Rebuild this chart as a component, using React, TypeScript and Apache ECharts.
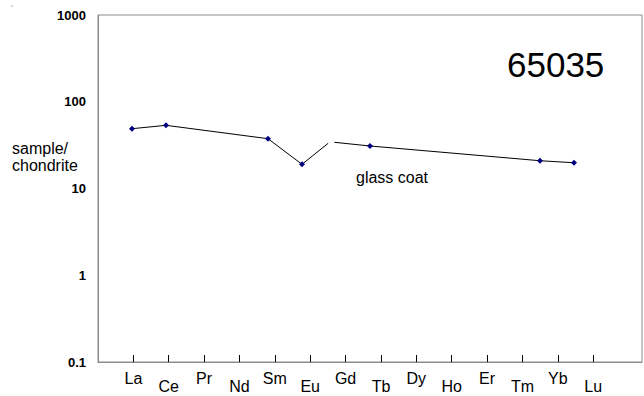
import React, { useEffect, useRef } from "react";
import * as echarts from "echarts";

const tickLabels = ["La", "Ce", "Pr", "Nd", "Sm", "Eu", "Gd", "Tb", "Dy", "Ho", "Er", "Tm", "Yb", "Lu"];
const tickPositions = [1, 2, 3, 4, 5, 6, 7, 8, 9, 10, 11, 12, 13, 14];

// first trace segment (La, Ce, Sm, Eu, then the line heading to Gd)
const segAX = [1, 2, 5, 6, 6.77];
const segAY = [48.9, 53.5, 37.5, 19.0, 33.2];
const segAMarker = [true, true, true, true, false];

// second trace segment (from Gd to Tb, Yb, Lu)
const segBX = [6.95, 8, 13, 14];
const segBY = [34.1, 30.9, 20.9, 19.8];
const segBMarker = [false, true, true, true];

const yTicks = [0.1, 1, 10, 100, 1000];

const FONT = "'Liberation Sans', Arial, sans-serif";

function build(xs: number[], ys: number[], marks: boolean[]) {
  return xs.map((x, i) => ({
    value: [x, ys[i]],
    symbol: marks[i] ? "diamond" : "none",
  }));
}

export default function App() {
  const ref = useRef<HTMLDivElement>(null);
  useEffect(() => {
    if (!ref.current) return;
    const chart = echarts.init(ref.current, null, { renderer: "svg" });
    chart.setOption({
      animation: false,
      backgroundColor: "#ffffff",
      grid: {
        left: 98,
        top: 15,
        right: 2,
        bottom: 34,
        show: true,
        borderColor: "#8c8c8c",
        borderWidth: 1,
        backgroundColor: "transparent",
      },
      xAxis: [
        {
          type: "value",
          min: 0,
          max: 16,
          show: false,
        },
        {
          type: "value",
          position: "bottom",
          min: 0,
          max: 15.38,
          interval: 1,
          axisLine: { show: true, lineStyle: { color: "#8c8c8c", width: 1 } },
          axisTick: {
            show: true,
            inside: true,
            length: 7,
            customValues: tickPositions,
            lineStyle: { color: "#000", width: 1 },
          },
          splitLine: { show: false },
          axisLabel: {
            customValues: tickPositions,
            margin: 8,
            fontFamily: FONT,
            fontSize: 16,
            color: "#000",
            formatter: (v: number) => {
              const i = Math.round(v) - 1;
              if (i < 0 || i >= tickLabels.length) return "";
              return i % 2 === 0 ? `{hi|${tickLabels[i]}}` : `{lo|${tickLabels[i]}}`;
            },
            rich: {
              hi: { fontFamily: FONT, fontSize: 16, color: "#000", padding: [0, 0, 0, 0] },
              lo: { fontFamily: FONT, fontSize: 16, color: "#000", padding: [8, 0, 0, 0] },
            },
          },
        },
      ],
      yAxis: {
        type: "log",
        logBase: 10,
        min: 0.1,
        max: 1000,
        axisLine: { show: true, lineStyle: { color: "#8c8c8c", width: 1 } },
        axisTick: { show: false },
        splitLine: { show: false },
        axisLabel: {
          margin: 12,
          fontFamily: FONT,
          fontSize: 13,
          fontWeight: "bold",
          color: "#000",
          customValues: yTicks,
          formatter: (v: number) => String(v),
        },
      },
      series: [
        {
          type: "line",
          xAxisIndex: 0,
          data: build(segAX, segAY, segAMarker),
          symbolSize: 6,
          lineStyle: { color: "#000", width: 1 },
          itemStyle: { color: "#000080" },
        },
        {
          type: "line",
          xAxisIndex: 0,
          data: build(segBX, segBY, segBMarker),
          symbolSize: 6,
          lineStyle: { color: "#000", width: 1 },
          itemStyle: { color: "#000080" },
        },
      ],
      graphic: [
        {
          type: "circle",
          shape: { cx: 12, cy: 6, r: 0.7 },
          style: { fill: "#999" },
        },
        {
          type: "text",
          left: 12,
          top: 140,
          style: {
            text: "sample/\nchondrite",
            fontFamily: FONT,
            fontSize: 16,
            lineHeight: 17,
            fill: "#000",
          },
        },
        {
          type: "text",
          left: 356,
          top: 169,
          style: { text: "glass coat", fontFamily: FONT, fontSize: 16, fill: "#000" },
        },
        {
          type: "text",
          left: 507,
          top: 47,
          style: { text: "65035", fontFamily: FONT, fontSize: 35, fill: "#000" },
        },
      ],
    });
    return () => chart.dispose();
  }, []);
  return <div ref={ref} style={{ position: "fixed", left: 0, top: 0, width: 644, height: 396 }} />;
}
